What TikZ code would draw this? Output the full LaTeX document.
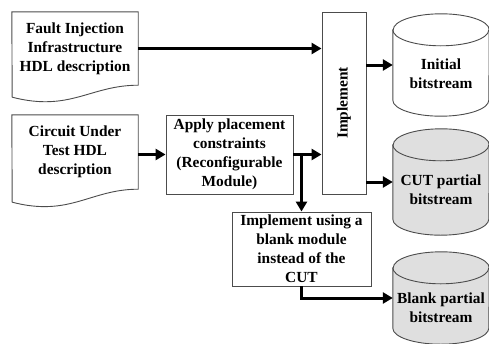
\documentclass[tikz,border=0pt]{standalone}
\usepackage{fontspec}
\usepackage{graphicx}
\setmainfont{Liberation Serif}
\usetikzlibrary{arrows.meta}

\tikzset{
	boxtext/.style={font=\fontsize{15.4}{19}\selectfont\bfseries, align=center, inner sep=2pt},
	flowbox/.style={boxtext, draw=black!70, line width=0.9pt},
	doctext/.style={boxtext, minimum width=126pt, minimum height=73pt},
	outline/.style={draw=black!70, line width=0.9pt},
	body/.style={minimum width=96pt, inner sep=0pt},
	flow/.style={line width=3pt, -{Triangle[length=10pt,width=11pt]}}
}

\begin{document}
\begin{tikzpicture}[x=1pt,y=-1pt]
	\useasboundingbox (0,0) rectangle (489,343);

	\node [doctext] (fii) at (75,48.5) {Fault Injection\\Infrastructure\\HDL description};
	\draw [outline] (fii.north west) -- (fii.north east) -- (fii.south east)
		.. controls +(-48,0) and +(58,15) .. ++(-126,12) -- cycle;

	\node [doctext, minimum height=74pt] (cut) at (75,152) {Circuit Under\\Test HDL\\description};
	\draw [outline] (cut.north west) -- (cut.north east) -- (cut.south east)
		.. controls +(-48,0) and +(58,15) .. ++(-126,13) -- cycle;

	\node [flowbox, minimum width=127pt, minimum height=79pt] (place) at (229.5,154.5) {Apply placement\\constraints\\(Reconfigurable\\Module)};
	\node [flowbox, minimum width=44pt, minimum height=182pt] (impl) at (344,103) {\rotatebox{90}{Implement}};
	\node [flowbox, minimum width=139pt, minimum height=74pt] (blank) at (301.5,249) {Implement using a\\blank module\\instead of the\\CUT};

	% bitstreams
	\node [body, minimum height=70pt] (init) at (441,65) {};
	\node [body, minimum height=74pt] (cutbit) at (441,182) {};
	\node [body, minimum height=60pt] (blankbit) at (441,298) {};

	\draw [outline, fill=white] (init.north west) -- (init.south west)
		arc [start angle=180, end angle=360, x radius=48pt, y radius=16pt] -- (init.north east)
		arc [start angle=0, end angle=180, x radius=48pt, y radius=16pt] -- cycle;
	\draw [outline] (init.north west) arc [start angle=180, end angle=360, x radius=48pt, y radius=16pt];

	\draw [outline, fill=gray!25] (cutbit.north west) -- (cutbit.south west)
		arc [start angle=180, end angle=360, x radius=48pt, y radius=16pt] -- (cutbit.north east)
		arc [start angle=0, end angle=180, x radius=48pt, y radius=16pt] -- cycle;
	\draw [outline] (cutbit.north west) arc [start angle=180, end angle=360, x radius=48pt, y radius=16pt];

	\draw [outline, fill=gray!25] (blankbit.north west) -- (blankbit.south west)
		arc [start angle=180, end angle=360, x radius=48pt, y radius=16pt] -- (blankbit.north east)
		arc [start angle=0, end angle=180, x radius=48pt, y radius=16pt] -- cycle;
	\draw [outline] (blankbit.north west) arc [start angle=180, end angle=360, x radius=48pt, y radius=16pt];

	\node [boxtext] (initlbl) at ([yshift=-8.5pt]init.center) {Initial\\bitstream};
	\node [boxtext] (cutbitlbl) at ([yshift=-8pt]cutbit.center) {CUT partial\\bitstream};
	\node [boxtext] (blankbitlbl) at ([yshift=-10pt]blankbit.center) {Blank partial\\bitstream};

	\draw [flow] (fii.east) -- (fii.east -| impl.west);
	\draw [flow] (cut.east |- place.west) -- (place.west);
	\draw [flow] (place.east) -- (place.east -| impl.west);
	\draw [flow] (place.east -| blank.north) -- (blank.north);
	\draw [flow] (impl.east |- init.west) -- (init.west);
	\draw [flow] (impl.east |- cutbit.west) -- (cutbit.west);
	\draw [flow] (blank.south) |- (blankbit.west);
\end{tikzpicture}
\end{document}
